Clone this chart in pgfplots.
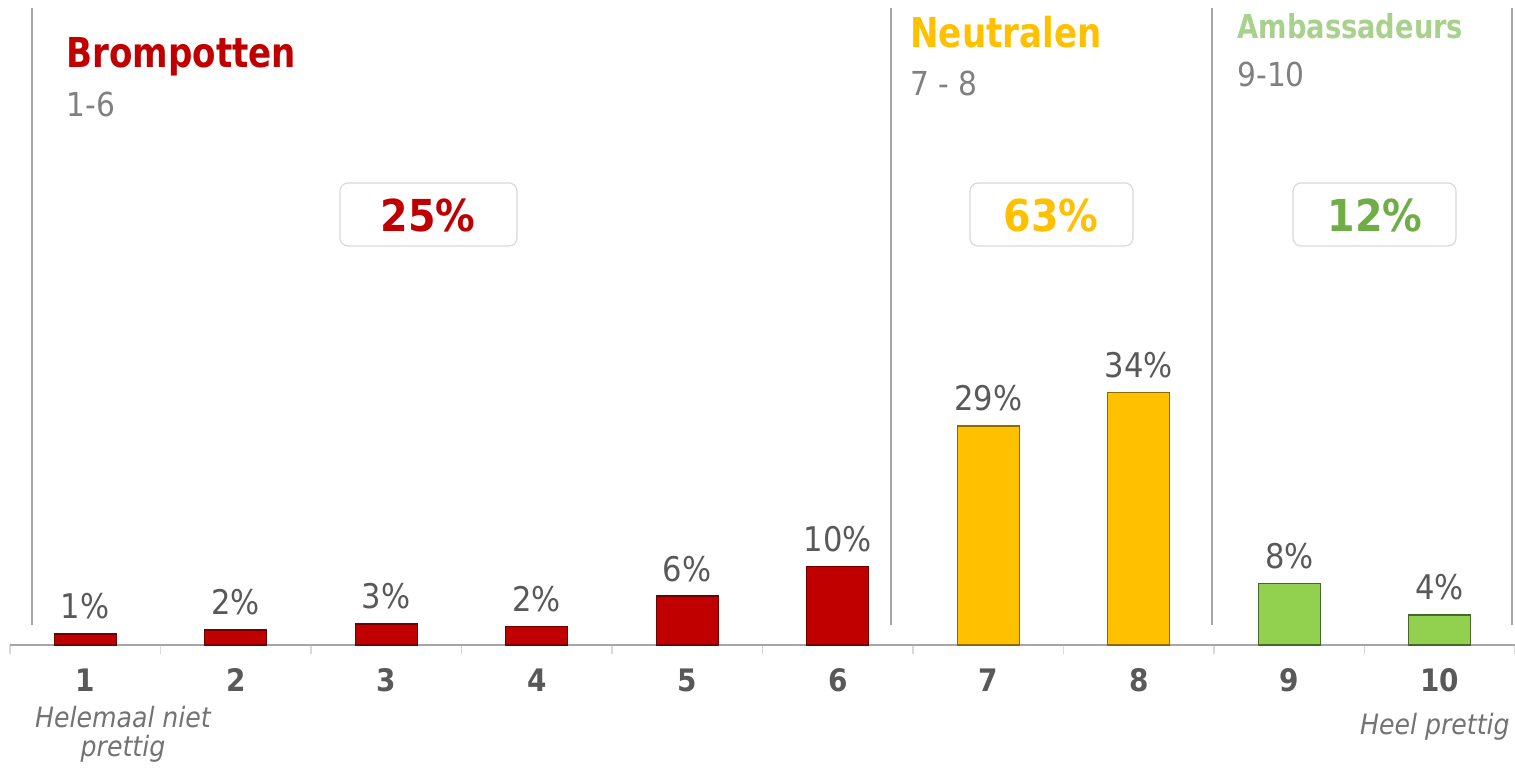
\documentclass[border=0pt]{standalone}
\usepackage{pgfplots}
\pgfplotsset{compat=1.18}
\usepackage{fontspec}
\setmainfont{DejaVu Sans Condensed}
\newfontfamily\titlefont{DejaVu Sans Condensed}[FakeStretch=0.92]

\definecolor{bred}{HTML}{C00000}
\definecolor{byel}{HTML}{FFC000}
\definecolor{bgrn}{HTML}{92D050}
\definecolor{tgrn}{HTML}{70AD47}
\definecolor{lgrn}{HTML}{A9D18E}
\definecolor{lbl}{HTML}{595959}
\definecolor{sub}{HTML}{808080}
\definecolor{ital}{HTML}{737373}
\definecolor{sep}{HTML}{A6A6A6}
\definecolor{boxc}{HTML}{D9D9D9}

\begin{document}
\begin{tikzpicture}
\begin{axis}[
    scale only axis,
    width=752.5pt, height=318.75pt,
    xmin=0.5, xmax=10.5, ymin=0, ymax=85,
    axis y line=none,
    axis x line*=bottom,
    x axis line style={draw=sep, line width=0.75pt, -},
    xtick={1,...,10},
    major tick length=0pt,
    minor xtick={0.5,1.5,...,10.5},
    minor tick length=4.5pt,
    tick align=outside,
    minor tick style={draw=boxc, line width=0.75pt},
    /pgf/number format/assume math mode=true,
    xticklabel style={font=\bfseries\fontsize{15.5}{18}\selectfont, text=lbl, anchor=base, yshift=-23.5pt},
    ybar, bar width=0.412, bar shift=0pt,
    nodes near coords,
    point meta=explicit symbolic,
    nodes near coords style={font=\fontsize{17}{20}\selectfont, text=lbl, anchor=base, yshift=7.5pt},
    clip=false,
]
% brompotten
\addplot[fill=bred, draw=bred!60!black, line width=0.6pt] coordinates {
    (1,1.47)[1\%] (2,2.0)[2\%] (3,2.8)[3\%] (4,2.44)[2\%] (5,6.53)[6\%] (6,10.44)[10\%]
};
% neutralen
\addplot[fill=byel, draw=byel!55!black, line width=0.6pt] coordinates {
    (7,29.2)[29\%] (8,33.7)[34\%]
};
% ambassadeurs
\addplot[fill=bgrn, draw=bgrn!50!black, line width=0.6pt] coordinates {
    (9,8.2)[8\%] (10,4.0)[4\%]
};
\coordinate (O) at (axis cs:0.43355,86);
\end{axis}

% overlay in pixel units of the 1515x769 reference
\begin{scope}[shift={(O)}, x=0.5pt, y=-0.5pt]
\foreach \xx in {32,891,1212,1512}
    \draw[sep, line width=1pt] (\xx,8) -- (\xx,625);

\node[anchor=base west, inner sep=0, text=bred, font=\titlefont\bfseries\fontsize{20.6}{24}\selectfont] at (66,68) {Brompotten};
\node[anchor=base west, inner sep=0, text=sub, font=\fontsize{16.5}{20}\selectfont] at (66,117) {1-6};
\node[anchor=base west, inner sep=0, text=byel, font=\titlefont\bfseries\fontsize{20.6}{24}\selectfont] at (910,48) {Neutralen};
\node[anchor=base west, inner sep=0, text=sub, font=\fontsize{16.5}{20}\selectfont] at (910,96) {7 - 8};
\node[anchor=base west, inner sep=0, text=lgrn, font=\titlefont\bfseries\fontsize{16.5}{20}\selectfont] at (1237,39) {Ambassadeurs};
\node[anchor=base west, inner sep=0, text=sub, font=\fontsize{16.5}{20}\selectfont] at (1237,87) {9-10};

\draw[boxc, line width=0.6pt, rounded corners=4pt] (340,183) rectangle (517,246);
\draw[boxc, line width=0.6pt, rounded corners=4pt] (970,183) rectangle (1133,246);
\draw[boxc, line width=0.6pt, rounded corners=4pt] (1293,183) rectangle (1456,246);
\node[anchor=base, inner sep=0, text=bred, font=\bfseries\fontsize{22}{26}\selectfont] at (428,232) {25\%};
\node[anchor=base, inner sep=0, text=byel, font=\bfseries\fontsize{22}{26}\selectfont] at (1051,232) {63\%};
\node[anchor=base, inner sep=0, text=tgrn, font=\bfseries\fontsize{22}{26}\selectfont] at (1375,232) {12\%};

\node[anchor=base, inner sep=0, text=ital, font=\itshape\fontsize{14}{16}\selectfont] at (123,728) {Helemaal niet};
\node[anchor=base, inner sep=0, text=ital, font=\itshape\fontsize{14}{16}\selectfont] at (123,757) {prettig};
\node[anchor=base east, inner sep=0, text=ital, font=\itshape\fontsize{14}{16}\selectfont] at (1510,735) {Heel prettig};

\pgfresetboundingbox
\path[use as bounding box] (0,0) rectangle (1515,769);
\end{scope}
\end{tikzpicture}
\end{document}
